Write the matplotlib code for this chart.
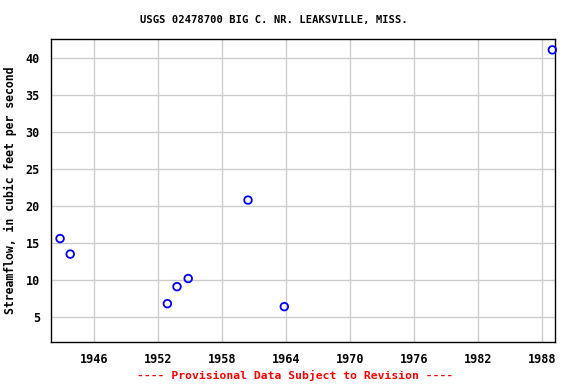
import matplotlib
matplotlib.use("Agg")
import matplotlib.pyplot as plt

# decimal year of each measurement, streamflow in cfs
years = [1942.85, 1943.8, 1952.9, 1953.8, 1954.85, 1960.45, 1963.85, 1988.95]
flows = [15.6, 13.5, 6.8, 9.1, 10.2, 20.8, 6.4, 41.1]

xticks = [1946, 1952, 1958, 1964, 1970, 1976, 1982, 1988]
yticks = [5, 10, 15, 20, 25, 30, 35, 40]

title = "USGS 02478700 BIG C. NR. LEAKSVILLE, MISS."
ylabel = "Streamflow, in cubic feet per second"
footer = "---- Provisional Data Subject to Revision ----"

plt.rcParams["font.family"] = "DejaVu Sans Mono"
plt.rcParams["font.weight"] = "bold"

fig = plt.figure(figsize=(5.76, 3.84), dpi=100)
ax = fig.add_axes([51 / 576, 1 - 342 / 384, (555 - 51) / 576, (342 - 39) / 384])

ax.scatter(years, flows, s=30, facecolors="none", edgecolors="blue",
           linewidths=1.3, zorder=3, clip_on=False)

ax.set_xlim(1942.0, 1989.2)
ax.set_ylim(1.62, 42.57)
ax.set_xticks(xticks)
ax.set_yticks(yticks)
ax.grid(True, color="#cccccc", linewidth=1)
ax.set_axisbelow(True)
ax.tick_params(labelsize=8.5, length=0, pad=8)
for sp in ax.spines.values():
    sp.set_linewidth(1)

ax.set_ylabel(ylabel, fontsize=8.3, fontweight="bold", labelpad=6)
fig.text(274 / 576, 1 - 20 / 384, title, ha="center", va="center",
         fontsize=7.6, fontweight="bold")
fig.text(295 / 576, 1 - 375 / 384, footer, ha="center", va="center",
         color="red", fontsize=8.2, fontweight="bold")

fig.savefig("out.png", dpi=100)
